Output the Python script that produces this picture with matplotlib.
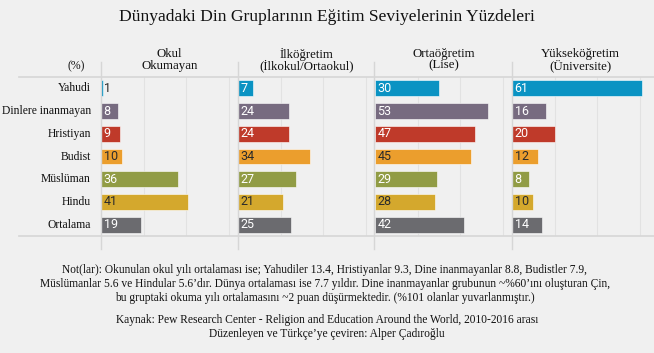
import matplotlib
matplotlib.use("Agg")
import matplotlib.pyplot as plt
from matplotlib.lines import Line2D

W, H = 654, 353
BG = "#f0f0f0"

categories = ["Yahudi", "Dinlere inanmayan", "Hristiyan", "Budist", "Müslüman", "Hindu", "Ortalama"]
panel_titles = ["Okul\nOkumayan", "İlköğretim\n(İlkokul/Ortaokul)", "Ortaöğretim\n(Lise)", "Yükseköğretim\n(Üniversite)"]
okul_okumayan = [1, 8, 9, 10, 36, 41, 19]
ilkogretim = [7, 24, 24, 34, 27, 21, 25]
ortaogretim = [30, 53, 47, 45, 29, 28, 42]
yuksekogretim = [61, 16, 20, 12, 8, 10, 14]
series = [okul_okumayan, ilkogretim, ortaogretim, yuksekogretim]
colors = ["#0a93c3", "#776b80", "#bf3a2a", "#eb9e2d", "#919c45", "#d4a82d", "#6b6b6f"]
dark_text = [False, False, False, True, False, True, False]

title = "Dünyadaki Din Gruplarının Eğitim Seviyelerinin Yüzdeleri"
note = ("Not(lar): Okunulan okul yılı ortalaması ise; Yahudiler 13.4, Hristiyanlar 9.3, Dine inanmayanlar 8.8, Budistler 7.9,\n"
        "Müslümanlar 5.6 ve Hindular 5.6’dır. Dünya ortalaması ise 7.7 yıldır. Dine inanmayanlar grubunun ~%60’ını oluşturan Çin,\n"
        "bu gruptaki okuma yılı ortalamasını ~2 puan düşürmektedir. (%101 olanlar yuvarlanmıştır.)")
source = "Kaynak: Pew Research Center - Religion and Education Around the World, 2010-2016 arası\nDüzenleyen ve Türkçe’ye çeviren: Alper Çadıroğlu"

SERIF = ["Liberation Serif", "DejaVu Serif"]
SANS = ["Roboto", "DejaVu Sans"]

fig = plt.figure(figsize=(W / 100, H / 100), dpi=100, facecolor=BG)

def fx(x):
    return x / W

def fy(y):
    return 1 - y / H

top, bottom = 77, 236
lefts = [101, 238, 375, 512]
pw = 137
xmax = pw / 2.13
ypos = list(range(len(categories)))

for p, vals in enumerate(series):
    ax = fig.add_axes([fx(lefts[p]), fy(bottom), fx(pw), (bottom - top) / H])
    ax.set_facecolor("none")
    ax.barh(ypos, vals, height=0.70, color=colors, edgecolor="#ffffff", linewidth=0.4, zorder=3)
    ax.set_xlim(0, xmax)
    ax.set_ylim(len(categories) - 0.5, -0.5)
    for s in ax.spines.values():
        s.set_visible(False)
    ax.set_xticks([20, 40, 60])
    ax.set_yticks([])
    ax.tick_params(axis="x", length=0, labelbottom=False)
    ax.grid(axis="x", color="#e2e2e2", linewidth=0.8, zorder=0)
    for i, v in enumerate(vals):
        c = "#2b2b2b" if (dark_text[i] or v < 3) else "white"
        ax.text(1.2, i, str(v), va="center", ha="left", fontsize=9,
                family=SANS, color=c, zorder=4)
    if p == 0:
        for i, cat in enumerate(categories):
            ax.text(-xmax * 10 / pw, i, cat, ha="right", va="center",
                    fontsize=8.4, family=SERIF, color="#111111")
    fig.text(fx(lefts[p] + pw / 2), fy(60), panel_titles[p], ha="center", va="center",
             fontsize=9.3, family=SERIF, color="#111111", linespacing=0.92)

# separators and horizontal rules
for x in [101, 238, 374, 512]:
    fig.add_artist(Line2D([fx(x), fx(x)], [fy(62), fy(249)], color="#d6d6d6", linewidth=1.0))
for y in [77, 236]:
    fig.add_artist(Line2D([fx(19), 1], [fy(y), fy(y)], color="#d6d6d6", linewidth=1.2))

fig.text(fx(76), fy(66), "(%)", ha="center", va="center", fontsize=8.5, family=SERIF, color="#111111")
fig.text(fx(327), fy(17), title, ha="center", va="center", fontsize=12.6, family=SERIF, color="#111111")
fig.text(fx(325), fy(284), note, ha="center", va="center", fontsize=8.3, family=SERIF,
         color="#111111", linespacing=1.2)
fig.text(fx(327), fy(327), source, ha="center", va="center", fontsize=8.3, family=SERIF,
         color="#111111", linespacing=1.2)

fig.savefig("out.png", dpi=100, facecolor=BG)
